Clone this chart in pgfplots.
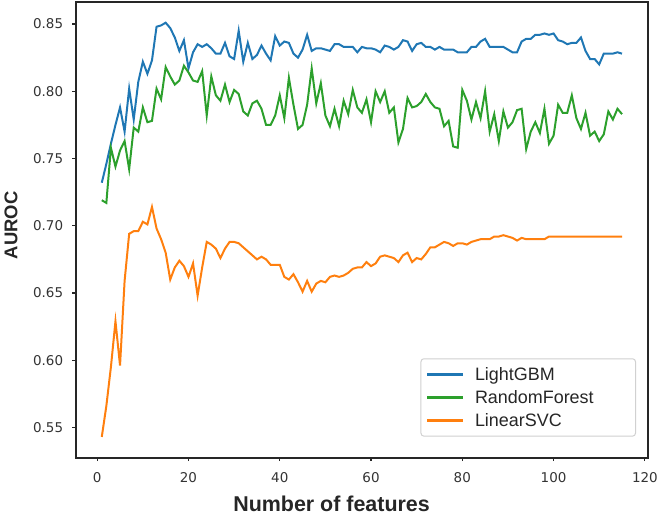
\documentclass[border=0pt]{standalone}
\usepackage{fontspec}
\setmainfont{Liberation Sans}
\newfontfamily\tickfont{DejaVu Sans}
\usepackage{pgfplots}
\usepackage{pgfplotstable}
\pgfplotsset{compat=1.18}
\definecolor{mblue}{HTML}{1F77B4}
\definecolor{mgreen}{HTML}{2CA02C}
\definecolor{morange}{HTML}{FF7F0E}

\pgfplotstableread{
x y
1 0.732
2 0.746
3 0.761
4 0.775
5 0.788
6 0.770
7 0.802
8 0.779
9 0.807
10 0.822
11 0.813
12 0.823
13 0.848
14 0.849
15 0.851
16 0.847
17 0.840
18 0.830
19 0.838
20 0.817
21 0.829
22 0.835
23 0.833
24 0.835
25 0.832
26 0.828
27 0.828
28 0.836
29 0.826
30 0.824
31 0.845
32 0.822
33 0.836
34 0.824
35 0.827
36 0.834
37 0.828
38 0.823
39 0.841
40 0.834
41 0.837
42 0.836
43 0.828
44 0.825
45 0.831
46 0.842
47 0.830
48 0.832
49 0.832
50 0.831
51 0.830
52 0.835
53 0.835
54 0.833
55 0.833
56 0.833
57 0.829
58 0.833
59 0.832
60 0.832
61 0.831
62 0.829
63 0.834
64 0.833
65 0.831
66 0.833
67 0.838
68 0.837
69 0.830
70 0.835
71 0.836
72 0.833
73 0.833
74 0.831
75 0.833
76 0.831
77 0.831
78 0.831
79 0.829
80 0.829
81 0.829
82 0.833
83 0.833
84 0.837
85 0.839
86 0.833
87 0.833
88 0.833
89 0.833
90 0.831
91 0.829
92 0.829
93 0.837
94 0.839
95 0.839
96 0.842
97 0.842
98 0.843
99 0.842
100 0.843
101 0.838
102 0.837
103 0.835
104 0.836
105 0.836
106 0.840
107 0.830
108 0.824
109 0.824
110 0.820
111 0.828
112 0.828
113 0.828
114 0.829
115 0.828
}\lgbm

\pgfplotstableread{
x y
1 0.719
2 0.717
3 0.758
4 0.744
5 0.756
6 0.763
7 0.742
8 0.773
9 0.770
10 0.788
11 0.777
12 0.778
13 0.802
14 0.794
15 0.818
16 0.811
17 0.805
18 0.808
19 0.819
20 0.814
21 0.808
22 0.807
23 0.815
24 0.782
25 0.811
26 0.797
27 0.793
28 0.805
29 0.792
30 0.801
31 0.798
32 0.785
33 0.782
34 0.791
35 0.793
36 0.787
37 0.775
38 0.775
39 0.782
40 0.797
41 0.780
42 0.810
43 0.790
44 0.772
45 0.775
46 0.790
47 0.817
48 0.791
49 0.806
50 0.782
51 0.774
52 0.787
53 0.774
54 0.793
55 0.783
56 0.801
57 0.788
58 0.784
59 0.794
60 0.777
61 0.800
62 0.792
63 0.800
64 0.784
65 0.788
66 0.762
67 0.772
68 0.795
69 0.788
70 0.789
71 0.792
72 0.798
73 0.792
74 0.788
75 0.787
76 0.774
77 0.778
78 0.759
79 0.758
80 0.801
81 0.793
82 0.779
83 0.792
84 0.780
85 0.800
86 0.770
87 0.783
88 0.763
89 0.785
90 0.773
91 0.777
92 0.786
93 0.787
94 0.757
95 0.770
96 0.777
97 0.769
98 0.787
99 0.761
100 0.767
101 0.790
102 0.784
103 0.784
104 0.797
105 0.780
106 0.772
107 0.784
108 0.767
109 0.770
110 0.763
111 0.768
112 0.785
113 0.779
114 0.787
115 0.783
}\rf

\pgfplotstableread{
x y
1 0.543
2 0.566
3 0.595
4 0.629
5 0.596
6 0.659
7 0.694
8 0.696
9 0.696
10 0.703
11 0.701
12 0.714
13 0.698
14 0.690
15 0.680
16 0.660
17 0.669
18 0.674
19 0.670
20 0.662
21 0.672
22 0.648
23 0.669
24 0.688
25 0.686
26 0.683
27 0.676
28 0.683
29 0.688
30 0.688
31 0.687
32 0.684
33 0.681
34 0.678
35 0.675
36 0.677
37 0.675
38 0.671
39 0.671
40 0.671
41 0.662
42 0.660
43 0.664
44 0.658
45 0.651
46 0.659
47 0.651
48 0.657
49 0.659
50 0.658
51 0.662
52 0.663
53 0.662
54 0.663
55 0.665
56 0.668
57 0.669
58 0.669
59 0.673
60 0.670
61 0.672
62 0.677
63 0.678
64 0.677
65 0.676
66 0.673
67 0.678
68 0.680
69 0.673
70 0.676
71 0.675
72 0.679
73 0.684
74 0.684
75 0.686
76 0.688
77 0.687
78 0.685
79 0.687
80 0.687
81 0.686
82 0.688
83 0.689
84 0.690
85 0.690
86 0.690
87 0.692
88 0.692
89 0.693
90 0.692
91 0.691
92 0.689
93 0.691
94 0.690
95 0.690
96 0.690
97 0.690
98 0.690
99 0.692
100 0.692
101 0.692
102 0.692
103 0.692
104 0.692
105 0.692
106 0.692
107 0.692
108 0.692
109 0.692
110 0.692
111 0.692
112 0.692
113 0.692
114 0.692
115 0.692
}\svc

\begin{document}
\begin{tikzpicture}
\begin{axis}[
  name=ax,
  scale only axis,
  width=574pt, height=457pt,
  xmin=-4.7, xmax=120.7,
  ymin=0.5276, ymax=0.8664,
  xtick={0,20,40,60,80,100,120},
  ytick={0.55,0.60,0.65,0.70,0.75,0.80,0.85},
  yticklabel style={/pgf/number format/fixed, /pgf/number format/fixed zerofill, /pgf/number format/precision=2, xshift=-9pt},
  /pgf/number format/assume math mode=true,
  tick label style={font=\tickfont\fontsize{13.5}{16}\selectfont, text=black!80, inner sep=0pt},
  xticklabel style={yshift=-11pt},
  tick align=outside,
  major tick length=3.5pt,
  tick style={line width=1.1pt, black!85},
  xtick pos=bottom, ytick pos=left,
  axis line style={line width=2pt, black!85},
  xlabel={Number of features},
  ylabel={AUROC},
  xlabel style={font=\fontsize{21.5}{24}\selectfont\bfseries, text=black!85, at={(axis description cs:0.447,-0.1005)}, anchor=center},
  ylabel style={font=\fontsize{18.5}{22}\selectfont\bfseries, text=black!85, at={(axis description cs:-0.1132,0.51)}, anchor=center},
  legend cell align=left,
  legend style={at={(axis description cs:0.979,0.046)}, anchor=south east,
    draw=black!18, line width=1pt, rounded corners=3pt,
    font=\fontsize{18}{21}\selectfont, text=black!85,
    inner xsep=5pt, inner ysep=6.5pt, row sep=4.5pt, column sep=9pt},
  legend image code/.code={\draw[#1, line width=2.2pt] (0pt,0pt) -- (36pt,0pt);},
]
\addplot[mblue, line width=2pt] table[x=x,y=y] {\lgbm};
\addlegendentry{\makebox[154pt][l]{LightGBM}}
\addplot[mgreen, line width=2pt] table[x=x,y=y] {\rf};
\addlegendentry{\makebox[154pt][l]{RandomForest}}
\addplot[morange, line width=2pt] table[x=x,y=y] {\svc};
\addlegendentry{\makebox[154pt][l]{LinearSVC}}
\end{axis}
\pgfresetboundingbox
\useasboundingbox ([xshift=-76pt,yshift=-57pt]ax.south west) rectangle ([xshift=10pt,yshift=2pt]ax.north east);
\end{tikzpicture}
\end{document}
